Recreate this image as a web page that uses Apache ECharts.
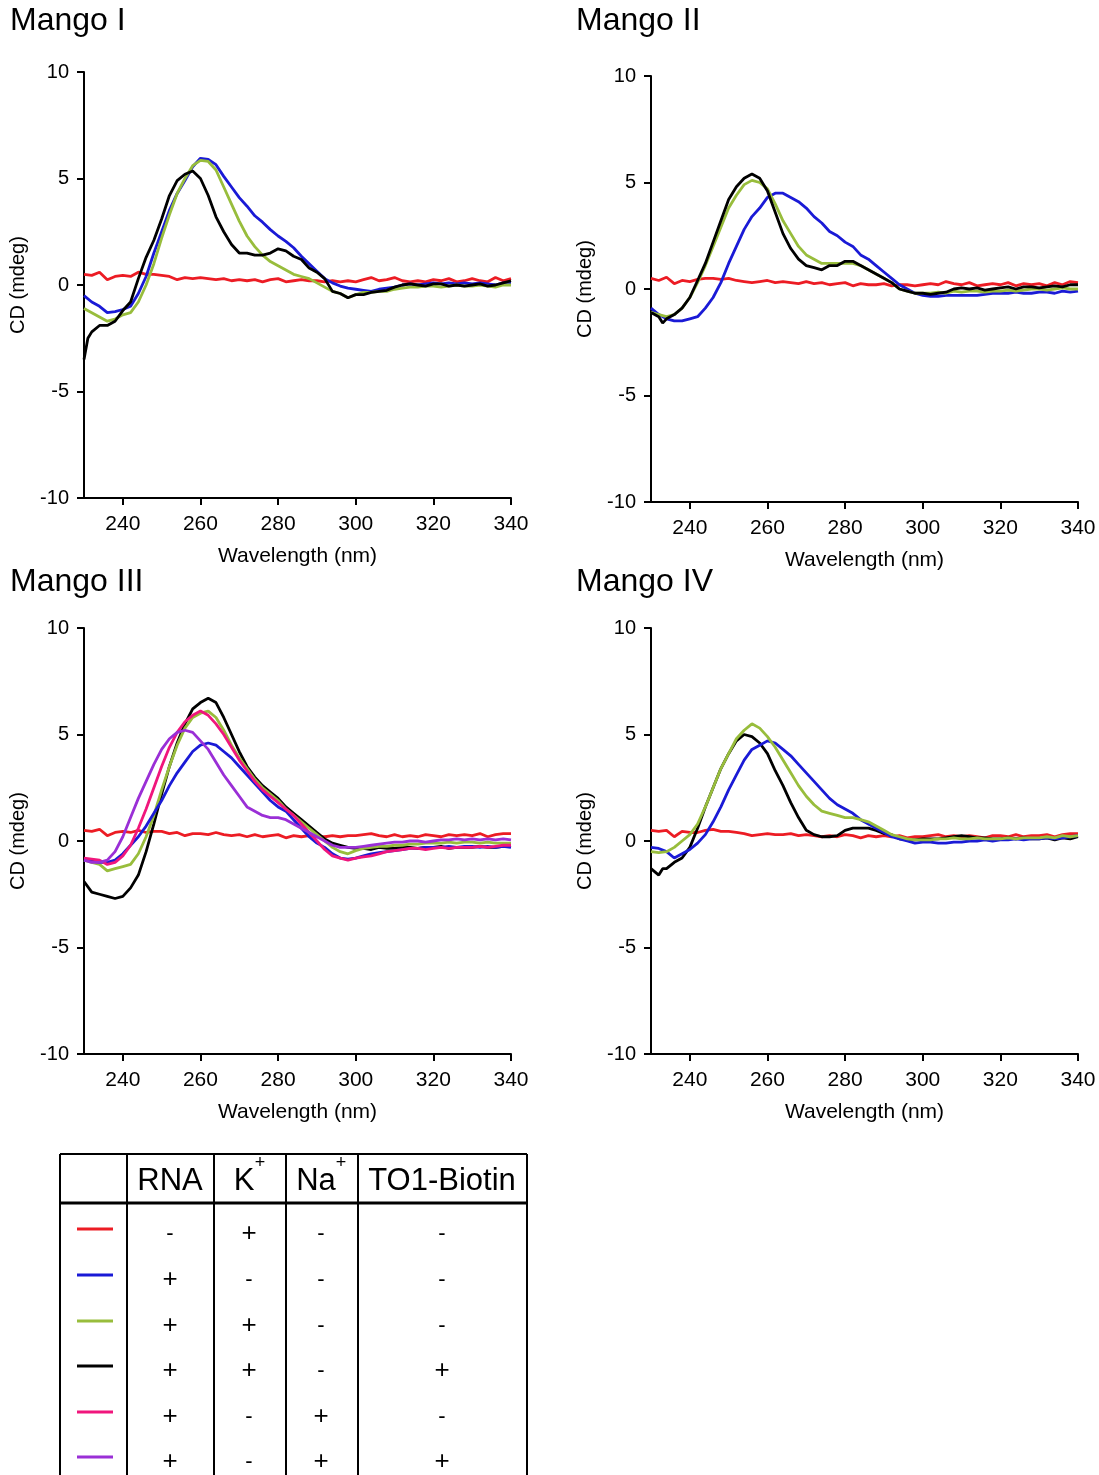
<!DOCTYPE html>
<html><head><meta charset="utf-8">
<script src="https://cdn.jsdelivr.net/npm/echarts@6/dist/echarts.min.js"></script>
<style>html,body{margin:0;padding:0;background:#fff}#c{width:1099px;height:1475px}</style>
</head><body><div id="c"></div>
<script>
// ---------------- DATA ----------------
const panelTitles = ['Mango I', 'Mango II', 'Mango III', 'Mango IV'];
const xTicks = [240, 260, 280, 300, 320, 340];
const yTicks = [-10, -5, 0, 5, 10];
const seriesNames = ['RNA- K+', 'RNA+', 'RNA+ K+', 'RNA+ K+ TO1-Biotin', 'RNA+ Na+', 'RNA+ Na+ TO1-Biotin'];
const seriesColors = ['#ec1c24', '#1a1ad6', '#98bd3c', '#000000', '#f0167c', '#9a2fd6'];

// Mango I
const m1Red = [[230,0.5],[232,0.45],[234,0.6],[236,0.25],[238,0.4],[240,0.45],[242,0.4],[244,0.6],[246,0.5],[248,0.5],[250,0.45],[252,0.4],[254,0.25],[256,0.35],[258,0.3],[260,0.35],[262,0.3],[264,0.25],[266,0.3],[268,0.2],[270,0.25],[272,0.2],[274,0.25],[276,0.15],[278,0.25],[280,0.3],[282,0.15],[284,0.2],[286,0.25],[288,0.2],[290,0.2],[292,0.15],[294,0.2],[296,0.15],[298,0.2],[300,0.15],[302,0.25],[304,0.35],[306,0.2],[308,0.25],[310,0.35],[312,0.2],[314,0.15],[316,0.2],[318,0.15],[320,0.25],[322,0.2],[324,0.3],[326,0.15],[328,0.2],[330,0.3],[332,0.2],[334,0.15],[336,0.35],[338,0.2],[340,0.3]];
const m1Blue = [[230,-0.5],[232,-0.8],[234,-1.0],[236,-1.3],[238,-1.25],[240,-1.15],[242,-1.0],[244,-0.4],[246,0.4],[248,1.5],[250,2.5],[252,3.5],[254,4.3],[256,4.9],[258,5.55],[260,5.95],[262,5.9],[264,5.65],[266,5.1],[268,4.6],[270,4.1],[272,3.7],[274,3.25],[276,2.95],[278,2.6],[280,2.3],[282,2.05],[284,1.75],[286,1.35],[288,1.0],[290,0.65],[292,0.3],[294,0.1],[296,-0.05],[298,-0.15],[300,-0.2],[302,-0.25],[304,-0.3],[306,-0.2],[308,-0.15],[310,-0.1],[312,0.0],[314,0.05],[316,0.0],[318,0.05],[320,0.1],[322,0.05],[324,0.1],[326,0.05],[328,0.1],[330,0.05],[332,0.1],[334,0.05],[336,0.0],[338,0.1],[340,0.1]];
const m1Green = [[230,-1.1],[232,-1.3],[234,-1.5],[236,-1.7],[238,-1.6],[240,-1.4],[242,-1.3],[244,-0.8],[246,0.0],[248,1.0],[250,2.2],[252,3.3],[254,4.3],[256,5.0],[258,5.6],[260,5.85],[262,5.8],[264,5.4],[266,4.6],[268,3.8],[270,3.0],[272,2.3],[274,1.8],[276,1.4],[278,1.1],[280,0.9],[282,0.7],[284,0.5],[286,0.4],[288,0.3],[290,0.1],[292,-0.1],[294,-0.3],[296,-0.4],[298,-0.6],[300,-0.45],[302,-0.35],[304,-0.35],[306,-0.3],[308,-0.3],[310,-0.2],[312,-0.15],[314,-0.1],[316,-0.1],[318,-0.05],[320,-0.05],[322,-0.1],[324,-0.05],[326,0.0],[328,-0.05],[330,-0.05],[332,0.0],[334,-0.05],[336,-0.1],[338,0.0],[340,0.0]];
const m1Black = [[230,-3.5],[231,-2.5],[232,-2.2],[234,-1.9],[236,-1.9],[238,-1.7],[240,-1.2],[242,-0.8],[244,0.3],[246,1.3],[248,2.1],[250,3.1],[252,4.2],[254,4.9],[256,5.2],[258,5.35],[260,5.0],[262,4.2],[264,3.2],[266,2.5],[268,1.9],[270,1.5],[272,1.5],[274,1.4],[276,1.4],[278,1.5],[280,1.7],[282,1.6],[284,1.35],[286,1.2],[288,0.8],[290,0.6],[292,0.3],[294,-0.3],[296,-0.4],[298,-0.6],[300,-0.45],[302,-0.45],[304,-0.35],[306,-0.3],[308,-0.25],[310,-0.1],[312,0.0],[314,0.05],[316,0.0],[318,-0.05],[320,0.05],[322,0.05],[324,-0.05],[326,0.0],[328,-0.05],[330,0.0],[332,0.05],[334,-0.05],[336,0.0],[338,0.1],[340,0.2]];

// Mango II
const m2Red = [[230,0.5],[232,0.4],[234,0.55],[236,0.25],[238,0.4],[240,0.35],[242,0.45],[244,0.5],[246,0.5],[248,0.45],[250,0.5],[252,0.4],[254,0.35],[256,0.3],[258,0.35],[260,0.4],[262,0.3],[264,0.35],[266,0.3],[268,0.25],[270,0.35],[272,0.25],[274,0.3],[276,0.2],[278,0.25],[280,0.3],[282,0.15],[284,0.25],[286,0.2],[288,0.2],[290,0.25],[292,0.15],[294,0.2],[296,0.2],[298,0.15],[300,0.2],[302,0.25],[304,0.2],[306,0.35],[308,0.25],[310,0.2],[312,0.3],[314,0.15],[316,0.2],[318,0.25],[320,0.2],[322,0.3],[324,0.15],[326,0.25],[328,0.2],[330,0.25],[332,0.15],[334,0.3],[336,0.2],[338,0.35],[340,0.3]];
const m2Blue = [[230,-0.9],[232,-1.2],[234,-1.4],[236,-1.5],[238,-1.5],[240,-1.4],[242,-1.3],[244,-0.9],[246,-0.4],[248,0.3],[250,1.2],[252,2.0],[254,2.8],[256,3.4],[258,3.8],[260,4.3],[262,4.5],[264,4.5],[266,4.3],[268,4.1],[270,3.8],[272,3.4],[274,3.1],[276,2.7],[278,2.5],[280,2.2],[282,2.0],[284,1.6],[286,1.4],[288,1.1],[290,0.8],[292,0.5],[294,0.2],[296,0.0],[298,-0.2],[300,-0.3],[302,-0.35],[304,-0.35],[306,-0.3],[308,-0.3],[310,-0.3],[312,-0.3],[314,-0.3],[316,-0.25],[318,-0.2],[320,-0.2],[322,-0.2],[324,-0.15],[326,-0.2],[328,-0.2],[330,-0.15],[332,-0.15],[334,-0.2],[336,-0.1],[338,-0.15],[340,-0.1]];
const m2Green = [[230,-1.1],[232,-1.2],[234,-1.3],[236,-1.2],[238,-0.9],[240,-0.4],[242,0.3],[244,1.1],[246,2.0],[248,2.9],[250,3.8],[252,4.4],[254,4.9],[256,5.1],[258,5.0],[260,4.7],[262,4.0],[264,3.2],[266,2.6],[268,2.0],[270,1.6],[272,1.4],[274,1.2],[276,1.2],[278,1.2],[280,1.2],[282,1.2],[284,1.1],[286,0.9],[288,0.7],[290,0.5],[292,0.3],[294,0.0],[296,-0.1],[298,-0.2],[300,-0.2],[302,-0.2],[304,-0.15],[306,-0.2],[308,-0.1],[310,-0.15],[312,-0.1],[314,-0.1],[316,-0.15],[318,-0.1],[320,-0.1],[322,-0.05],[324,-0.1],[326,-0.05],[328,0.0],[330,0.0],[332,-0.05],[334,0.0],[336,0.05],[338,0.0],[340,0.0]];
const m2Black = [[230,-1.1],[232,-1.3],[233,-1.6],[234,-1.4],[236,-1.2],[238,-0.9],[240,-0.4],[242,0.4],[244,1.2],[246,2.2],[248,3.2],[250,4.2],[252,4.8],[254,5.2],[256,5.4],[258,5.2],[260,4.6],[262,3.6],[264,2.6],[266,1.9],[268,1.4],[270,1.1],[272,1.0],[274,0.9],[276,1.1],[278,1.1],[280,1.3],[282,1.3],[284,1.1],[286,0.9],[288,0.7],[290,0.5],[292,0.3],[294,0.0],[296,-0.1],[298,-0.2],[300,-0.2],[302,-0.25],[304,-0.2],[306,-0.15],[308,0.0],[310,0.05],[312,0.0],[314,0.05],[316,-0.05],[318,0.0],[320,0.05],[322,0.1],[324,0.0],[326,0.1],[328,0.1],[330,0.05],[332,0.1],[334,0.15],[336,0.1],[338,0.2],[340,0.2]];

// Mango III
const m3Red = [[230,0.5],[232,0.45],[234,0.55],[236,0.25],[238,0.4],[240,0.45],[242,0.4],[244,0.5],[246,0.4],[248,0.45],[250,0.45],[252,0.35],[254,0.4],[256,0.25],[258,0.35],[260,0.35],[262,0.3],[264,0.4],[266,0.3],[268,0.25],[270,0.3],[272,0.2],[274,0.3],[276,0.2],[278,0.25],[280,0.3],[282,0.15],[284,0.25],[286,0.2],[288,0.25],[290,0.2],[292,0.2],[294,0.25],[296,0.2],[298,0.25],[300,0.25],[302,0.3],[304,0.35],[306,0.25],[308,0.2],[310,0.3],[312,0.2],[314,0.25],[316,0.2],[318,0.3],[320,0.25],[322,0.2],[324,0.3],[326,0.25],[328,0.3],[330,0.25],[332,0.35],[334,0.2],[336,0.3],[338,0.35],[340,0.35]];
const m3Blue = [[230,-0.9],[232,-0.95],[234,-1.0],[236,-1.0],[238,-0.9],[240,-0.6],[242,-0.2],[244,0.2],[246,0.7],[248,1.3],[250,1.9],[252,2.6],[254,3.2],[256,3.7],[258,4.2],[260,4.5],[262,4.6],[264,4.5],[266,4.2],[268,3.9],[270,3.5],[272,3.1],[274,2.7],[276,2.3],[278,1.9],[280,1.6],[282,1.4],[284,1.0],[286,0.6],[288,0.2],[290,-0.1],[292,-0.3],[294,-0.6],[296,-0.8],[298,-0.85],[300,-0.8],[302,-0.7],[304,-0.6],[306,-0.55],[308,-0.5],[310,-0.45],[312,-0.4],[314,-0.35],[316,-0.35],[318,-0.3],[320,-0.3],[322,-0.3],[324,-0.25],[326,-0.3],[328,-0.25],[330,-0.25],[332,-0.3],[334,-0.25],[336,-0.3],[338,-0.25],[340,-0.3]];
const m3Green = [[230,-0.9],[232,-1.0],[234,-1.1],[236,-1.4],[238,-1.3],[240,-1.2],[242,-1.1],[244,-0.6],[246,0.2],[248,1.2],[250,2.4],[252,3.5],[254,4.5],[256,5.3],[258,5.8],[260,6.0],[262,6.1],[264,5.8],[266,5.2],[268,4.5],[270,3.9],[272,3.4],[274,2.9],[276,2.5],[278,2.2],[280,1.9],[282,1.5],[284,1.2],[286,0.9],[288,0.6],[290,0.3],[292,0.0],[294,-0.3],[296,-0.5],[298,-0.6],[300,-0.45],[302,-0.35],[304,-0.3],[306,-0.25],[308,-0.25],[310,-0.2],[312,-0.2],[314,-0.15],[316,-0.15],[318,-0.1],[320,-0.1],[322,-0.1],[324,-0.05],[326,-0.1],[328,-0.05],[330,-0.05],[332,-0.1],[334,-0.05],[336,-0.1],[338,-0.1],[340,-0.1]];
const m3Black = [[230,-1.9],[232,-2.4],[234,-2.5],[236,-2.6],[238,-2.7],[240,-2.6],[242,-2.2],[244,-1.6],[246,-0.5],[248,0.8],[250,2.2],[252,3.5],[254,4.6],[256,5.5],[258,6.2],[260,6.5],[262,6.7],[264,6.5],[266,5.8],[268,5.0],[270,4.2],[272,3.5],[274,3.0],[276,2.6],[278,2.3],[280,2.0],[282,1.6],[284,1.3],[286,1.0],[288,0.7],[290,0.4],[292,0.1],[294,-0.1],[296,-0.2],[298,-0.3],[300,-0.35],[302,-0.35],[304,-0.4],[306,-0.3],[308,-0.35],[310,-0.35],[312,-0.3],[314,-0.3],[316,-0.35],[318,-0.3],[320,-0.3],[322,-0.25],[324,-0.35],[326,-0.3],[328,-0.3],[330,-0.3],[332,-0.25],[334,-0.3],[336,-0.3],[338,-0.25],[340,-0.25]];
const m3Pink = [[230,-0.8],[232,-0.85],[234,-0.9],[236,-1.1],[238,-1.0],[240,-0.7],[242,-0.2],[244,0.6],[246,1.5],[248,2.5],[250,3.5],[252,4.4],[254,5.1],[256,5.6],[258,5.9],[260,6.1],[262,5.9],[264,5.5],[266,5.0],[268,4.4],[270,3.8],[272,3.3],[274,2.8],[276,2.4],[278,2.1],[280,1.8],[282,1.5],[284,1.2],[286,0.8],[288,0.4],[290,0.0],[292,-0.4],[294,-0.7],[296,-0.8],[298,-0.9],[300,-0.8],[302,-0.75],[304,-0.7],[306,-0.6],[308,-0.5],[310,-0.45],[312,-0.4],[314,-0.35],[316,-0.35],[318,-0.4],[320,-0.35],[322,-0.3],[324,-0.35],[326,-0.3],[328,-0.3],[330,-0.3],[332,-0.25],[334,-0.3],[336,-0.25],[338,-0.2],[340,-0.2]];
const m3Purple = [[230,-0.9],[232,-1.0],[234,-1.0],[236,-0.9],[238,-0.5],[240,0.2],[242,1.1],[244,2.0],[246,2.8],[248,3.6],[250,4.3],[252,4.8],[254,5.1],[256,5.2],[258,5.1],[260,4.7],[262,4.3],[264,3.7],[266,3.1],[268,2.6],[270,2.1],[272,1.6],[274,1.4],[276,1.2],[278,1.1],[280,1.1],[282,1.0],[284,0.8],[286,0.6],[288,0.4],[290,0.2],[292,0.0],[294,-0.2],[296,-0.3],[298,-0.3],[300,-0.3],[302,-0.25],[304,-0.2],[306,-0.15],[308,-0.1],[310,-0.05],[312,-0.05],[314,0.0],[316,0.0],[318,-0.05],[320,0.0],[322,0.05],[324,0.05],[326,0.1],[328,0.05],[330,0.1],[332,0.05],[334,0.1],[336,0.05],[338,0.1],[340,0.05]];

// Mango IV
const m4Red = [[230,0.5],[232,0.45],[234,0.5],[236,0.2],[238,0.45],[240,0.4],[242,0.4],[244,0.5],[246,0.55],[248,0.45],[250,0.45],[252,0.4],[254,0.35],[256,0.25],[258,0.3],[260,0.35],[262,0.3],[264,0.3],[266,0.35],[268,0.25],[270,0.3],[272,0.25],[274,0.2],[276,0.25],[278,0.2],[280,0.3],[282,0.25],[284,0.15],[286,0.25],[288,0.2],[290,0.25],[292,0.2],[294,0.25],[296,0.15],[298,0.2],[300,0.2],[302,0.25],[304,0.3],[306,0.2],[308,0.25],[310,0.2],[312,0.25],[314,0.2],[316,0.15],[318,0.25],[320,0.25],[322,0.2],[324,0.3],[326,0.2],[328,0.25],[330,0.25],[332,0.3],[334,0.2],[336,0.3],[338,0.35],[340,0.35]];
const m4Blue = [[230,-0.3],[232,-0.35],[234,-0.5],[236,-0.8],[238,-0.6],[240,-0.4],[242,-0.1],[244,0.3],[246,0.9],[248,1.6],[250,2.4],[252,3.1],[254,3.8],[256,4.3],[258,4.5],[260,4.7],[262,4.6],[264,4.3],[266,4.0],[268,3.6],[270,3.2],[272,2.8],[274,2.4],[276,2.0],[278,1.7],[280,1.5],[282,1.3],[284,1.0],[286,0.8],[288,0.6],[290,0.4],[292,0.2],[294,0.1],[296,0.0],[298,-0.1],[300,-0.05],[302,-0.05],[304,-0.1],[306,-0.1],[308,-0.05],[310,-0.05],[312,0.0],[314,0.0],[316,0.05],[318,0.0],[320,0.05],[322,0.05],[324,0.1],[326,0.05],[328,0.1],[330,0.1],[332,0.15],[334,0.1],[336,0.15],[338,0.2],[340,0.25]];
const m4Green = [[230,-0.5],[232,-0.55],[234,-0.5],[236,-0.3],[238,0.0],[240,0.3],[242,0.8],[244,1.6],[246,2.5],[248,3.4],[250,4.1],[252,4.8],[254,5.2],[256,5.5],[258,5.3],[260,4.9],[262,4.4],[264,3.8],[266,3.2],[268,2.6],[270,2.1],[272,1.7],[274,1.4],[276,1.3],[278,1.2],[280,1.1],[282,1.1],[284,1.0],[286,0.9],[288,0.7],[290,0.5],[292,0.3],[294,0.2],[296,0.1],[298,0.05],[300,0.05],[302,0.05],[304,0.1],[306,0.1],[308,0.15],[310,0.1],[312,0.1],[314,0.15],[316,0.1],[318,0.1],[320,0.1],[322,0.15],[324,0.1],[326,0.15],[328,0.15],[330,0.15],[332,0.2],[334,0.15],[336,0.25],[338,0.2],[340,0.25]];
const m4Black = [[230,-1.3],[232,-1.6],[233,-1.3],[234,-1.3],[236,-1.0],[238,-0.8],[240,-0.3],[242,0.6],[244,1.6],[246,2.5],[248,3.4],[250,4.1],[252,4.7],[254,5.0],[256,4.9],[258,4.6],[260,4.1],[262,3.3],[264,2.6],[266,1.8],[268,1.1],[270,0.5],[272,0.3],[274,0.2],[276,0.2],[278,0.25],[280,0.5],[282,0.6],[284,0.6],[286,0.6],[288,0.5],[290,0.35],[292,0.3],[294,0.1],[296,0.05],[298,0.05],[300,0.1],[302,0.1],[304,0.1],[306,0.15],[308,0.2],[310,0.25],[312,0.2],[314,0.15],[316,0.15],[318,0.1],[320,0.1],[322,0.15],[324,0.1],[326,0.15],[328,0.1],[330,0.1],[332,0.15],[334,0.05],[336,0.15],[338,0.1],[340,0.2]];

// legend table
const tableHeaders = ['RNA', 'K', 'Na', 'TO1-Biotin'];
const tableRows = [
  ['-', '+', '-', '-'],
  ['+', '-', '-', '-'],
  ['+', '+', '-', '-'],
  ['+', '+', '-', '+'],
  ['+', '-', '+', '-'],
  ['+', '-', '+', '+']
];

// ---------------- CHART ----------------
const FONT = 'Liberation Sans, Arial, Helvetica, sans-serif';
const panels = [
  { title: panelTitles[0], grid: {left: 84, top: 72, width: 427, height: 426}, tpos: [10, 22], data: [[m1Red,0],[m1Blue,1],[m1Green,2],[m1Black,3]] },
  { title: panelTitles[1], grid: {left: 651, top: 76, width: 427, height: 426}, tpos: [576, 22], data: [[m2Red,0],[m2Blue,1],[m2Green,2],[m2Black,3]] },
  { title: panelTitles[2], grid: {left: 84, top: 628, width: 427, height: 426}, tpos: [10, 583], data: [[m3Red,0],[m3Black,3],[m3Green,2],[m3Blue,1],[m3Pink,4],[m3Purple,5]] },
  { title: panelTitles[3], grid: {left: 651, top: 628, width: 427, height: 426}, tpos: [576, 583], data: [[m4Red,0],[m4Black,3],[m4Blue,1],[m4Green,2]] }
];

const grids = [], xAxes = [], yAxes = [], series = [], graphics = [];
const axisLine = { show: true, onZero: false, lineStyle: { color: '#000', width: 2 } };
const axisTick = { show: true, inside: false, length: 7, lineStyle: { color: '#000', width: 2 } };
panels.forEach((p, i) => {
  grids.push(Object.assign({ containLabel: false }, p.grid));
  xAxes.push({
    type: 'value', gridIndex: i, min: 230, max: 340, interval: 10,
    axisLine, axisTick: Object.assign({}, axisTick, { customValues: xTicks }),
    axisLabel: { customValues: xTicks, color: '#000', fontSize: 21, fontFamily: FONT, margin: 16 },
    splitLine: { show: false },
    name: 'Wavelength (nm)', nameLocation: 'middle', nameGap: 48,
    nameTextStyle: { color: '#000', fontSize: 21, fontFamily: FONT }
  });
  yAxes.push({
    type: 'value', gridIndex: i, min: -10, max: 10, interval: 5,
    axisLine, axisTick,
    axisLabel: { color: '#000', fontSize: 20, fontFamily: FONT, margin: 15 },
    splitLine: { show: false },
    name: 'CD (mdeg)', nameLocation: 'middle', nameGap: 56, nameRotate: 90,
    nameTextStyle: { color: '#000', fontSize: 20, fontFamily: FONT }
  });
  p.data.forEach(([arr, ci]) => {
    series.push({
      type: 'line', name: seriesNames[ci], xAxisIndex: i, yAxisIndex: i,
      data: arr, showSymbol: false, symbol: 'none', smooth: false,
      lineStyle: { color: seriesColors[ci], width: 2.8 }, z: 2
    });
  });
  graphics.push({ type: 'text', left: p.tpos[0], top: p.tpos[1] - 17,
    style: { text: p.title, fontSize: 32, fontFamily: FONT, fill: '#000' } });
});

// table
const colX = [60, 127, 214, 286, 358, 527];
const headTop = 1154, headBottom = 1203, tableBottom = 1480;
const rowY = [1231, 1277, 1323, 1368, 1414, 1459];
const lw = 2;
graphics.push({ type: 'line', shape: { x1: colX[0], y1: headTop, x2: colX[5], y2: headTop }, style: { stroke: '#000', lineWidth: lw } });
graphics.push({ type: 'line', shape: { x1: colX[0], y1: headBottom, x2: colX[5], y2: headBottom }, style: { stroke: '#000', lineWidth: 3 } });
colX.forEach(x => graphics.push({ type: 'line', shape: { x1: x, y1: headTop, x2: x, y2: tableBottom }, style: { stroke: '#000', lineWidth: lw } }));
const headCenters = [170, 244, 316, 442];
tableHeaders.forEach((h, j) => {
  graphics.push({ type: 'text', x: headCenters[j], y: 1181,
    style: { text: h, fontSize: 31, fontFamily: FONT, fill: '#000', textAlign: 'center', textVerticalAlign: 'middle' } });
});
graphics.push({ type: 'text', x: 260, y: 1163, style: { text: '+', fontSize: 18, fontFamily: FONT, fill: '#000', textAlign: 'center', textVerticalAlign: 'middle' } });
graphics.push({ type: 'text', x: 341, y: 1163, style: { text: '+', fontSize: 18, fontFamily: FONT, fill: '#000', textAlign: 'center', textVerticalAlign: 'middle' } });
const cellX = [170, 249, 321, 442];
tableRows.forEach((r, i) => {
  graphics.push({ type: 'line', shape: { x1: 77, y1: rowY[i] - 2, x2: 113, y2: rowY[i] - 2 }, style: { stroke: seriesColors[i], lineWidth: 3 } });
  r.forEach((v, j) => {
    graphics.push({ type: 'text', x: cellX[j], y: rowY[i] + 3,
      style: { text: v, fontSize: v === '+' ? 26 : 22, fontFamily: FONT, fill: '#000', textAlign: 'center', textVerticalAlign: 'middle' } });
  });
});

const chart = echarts.init(document.getElementById('c'), null, { renderer: 'canvas' });
chart.setOption({
  animation: false, backgroundColor: '#fff',
  grid: grids, xAxis: xAxes, yAxis: yAxes, series, graphic: graphics
});
</script></body></html>
